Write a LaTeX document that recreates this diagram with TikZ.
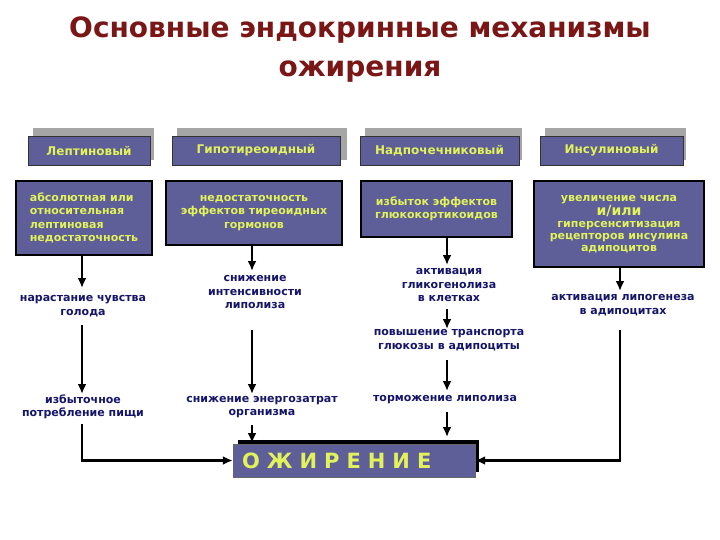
\documentclass[tikz,border=0pt]{standalone}
\usepackage{fontspec}
\setmainfont{DejaVu Sans}
\usetikzlibrary{arrows.meta}
\definecolor{boxc}{HTML}{5E5E98}
\definecolor{txtc}{HTML}{E2F25A}
\definecolor{navy}{HTML}{15156A}
\definecolor{ttl}{HTML}{7A1616}
\begin{document}
\begin{tikzpicture}[x=1pt,y=-1pt,
  hdr/.style={draw=black!80,fill=boxc,text=txtc,font=\bfseries\fontsize{12}{14}\selectfont,inner sep=0pt,minimum height=29pt},
  shd/.style={fill=gray!70,draw=none},
  mbox/.style={draw=black,line width=2.5pt,fill=boxc,text=txtc,font=\bfseries\fontsize{11}{13.5}\selectfont,inner sep=2pt,align=center},
  lbl/.style={text=navy,font=\bfseries\fontsize{11}{13.5}\selectfont,align=center,inner sep=1pt},
  arr/.style={line width=2.6pt,-{Latex[length=10pt,width=9pt]}}]
\useasboundingbox (0,0) rectangle (720,540);
\fill[white] (0,0) rectangle (720,540);
\node[text=ttl,font=\bfseries\fontsize{28}{39}\selectfont,align=center] (title) at (360,50) {Основные эндокринные механизмы\\ожирения};
% header shadows
\fill[shd] (33,128) rectangle (154,160);
\fill[shd] (177,128) rectangle (347,160);
\fill[shd] (365,128) rectangle (522,160);
\fill[shd] (545,128) rectangle (686,160);
\node[hdr,minimum width=122pt] (h1) at (89,150.5) {Лептиновый};
\node[hdr,minimum width=168pt] (h2) at (256,150.5) {Гипотиреоидный};
\node[hdr,minimum width=159pt] (h3) at (439.5,150.5) {Надпочечниковый};
\node[hdr,minimum width=143pt] (h4) at (611.5,150.5) {Инсулиновый};
% main boxes
\node[mbox,minimum width=136pt,minimum height=74pt,align=left] (b1) at (84,218) {абсолютная или\\относительная\\лептиновая\\недостаточность};
\node[mbox,minimum width=176pt,minimum height=64pt] (b2) at (254,213) {недостаточность\\эффектов тиреоидных\\гормонов};
\node[mbox,minimum width=151pt,minimum height=56pt] (b3) at (436.5,209) {избыток эффектов\\глюкокортикоидов};
\node[mbox,minimum width=170pt,minimum height=86pt,font=\bfseries\fontsize{11}{12}\selectfont] (b4) at (619,224) {увеличение числа\\{\fontsize{14}{12}\selectfont и/или}\\гиперсенситизация\\рецепторов инсулина\\адипоцитов};
% labels
\node[lbl] (l1a) at (83,306) {нарастание чувства\\голода};
\node[lbl] (l2a) at (255,292) {снижение\\интенсивности\\липолиза};
\node[lbl] (l3a) at (449,285) {активация\\гликогенолиза\\в клетках};
\node[lbl] (l4a) at (623,305) {активация липогенеза\\в адипоцитах};
\node[lbl] (l3b) at (449,340) {повышение транспорта\\глюкозы в адипоциты};
\node[lbl] (l1b) at (83,407) {избыточное\\потребление пищи};
\node[lbl] (l2b) at (262,407) {снижение энергозатрат\\организма};
\node[lbl] (l3c) at (445,400) {торможение липолиза};
% obesity
\fill[black] (238,440) rectangle (479,472);
\node[fill=boxc,draw=black!60,minimum width=242pt,minimum height=33pt,inner sep=0pt,text=txtc,font=\bfseries\fontsize{21}{24}\selectfont] (ob) at (354,460.5) {\makebox[236pt][l]{\hspace{6pt}О\,\,Ж\,\,И\,\,Р\,\,Е\,\,Н\,\,И\,\,Е}};
% arrows
\draw[arr] (82,256) -- (82,288);
\draw[arr] (82,325) -- (82,394);
\draw[arr] (82,424) |- (ob.west);
\draw[arr] (252,246) -- (252,271);
\draw[arr] (252,330) -- (252,394);
\draw[arr] (252,425) -- (252,443);
\draw[arr] (447,238) -- (447,265);
\draw[arr] (447,309) -- (447,329);
\draw[arr] (447,360) -- (447,391);
\draw[arr] (447,412) -- (447,437);
\draw[arr] (620,268) -- (620,291);
\draw[arr] (620,330) |- (ob.east);
\end{tikzpicture}
\end{document}
